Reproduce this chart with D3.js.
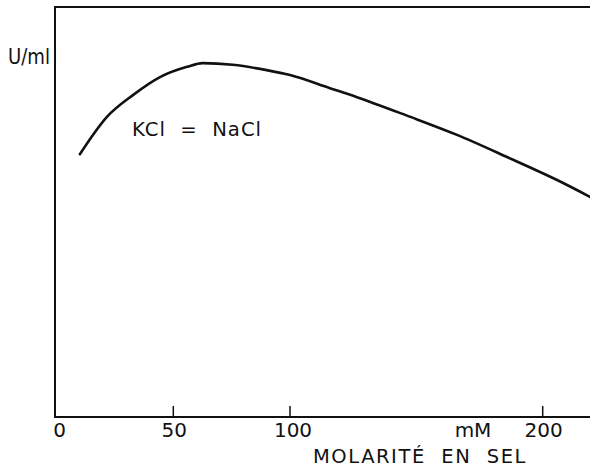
<!DOCTYPE html>
<html>
<head>
<meta charset="utf-8">
<script src="https://cdn.jsdelivr.net/npm/d3@7"></script>
<style>
  html, body { margin: 0; padding: 0; background: #fff; }
  svg text { font-family: "DejaVu Sans", sans-serif; fill: #111; white-space: pre; }
</style>
</head>
<body>
<svg id="chart" width="590" height="469"></svg>
<script>
// salt molarity (mM) and relative activity (U/ml, arbitrary units)
var molarity = [10, 21.6, 32.7, 44.3, 55.9, 62.6, 75.5, 90, 100, 115.8, 126.5, 146.3, 166.1, 185.9, 205.7, 218.7];
var activity = [64.1, 73.2, 78.5, 82.9, 85.4, 86.3, 85.9, 84.6, 83.4, 80.2, 78.0, 73.5, 68.8, 63.4, 57.8, 53.7];

var xTicks = [50, 100, 200];
var xTickLabels = ['0', '50', '100', '200'];
var xLabelValues = [0, 50, 100, 200];

var svg = d3.select('#chart');

var plotLeft = 55, plotTop = 7, plotBottom = 417, plotRight = 590;

// hand-drawn axis: spacing between ticks is not quite even
var x = d3.scaleLinear()
  .domain([0, 50, 100, 200])
  .range([plotLeft + 1.5, 173.3, 290, 542.7]);
var y = d3.scaleLinear()
  .domain([0, 100])
  .range([plotBottom, plotTop]);

var ink = '#111';

// frame: top, left, bottom (no right side)
svg.append('path')
  .attr('d', 'M' + plotRight + ',' + plotTop + 'H' + plotLeft + 'V' + plotBottom + 'H' + plotRight)
  .attr('fill', 'none')
  .attr('stroke', ink)
  .attr('stroke-width', 2);

// ticks pointing inward
svg.selectAll('.tick')
  .data(xTicks)
  .enter().append('line')
  .attr('class', 'tick')
  .attr('x1', function (d) { return x(d); })
  .attr('x2', function (d) { return x(d); })
  .attr('y1', plotBottom)
  .attr('y2', plotBottom - 11)
  .attr('stroke', ink)
  .attr('stroke-width', 1.5);

svg.selectAll('.tick-label')
  .data(xLabelValues)
  .enter().append('text')
  .attr('class', 'tick-label')
  .attr('x', function (d) { return x(d) + (d === 0 ? 3 : (d === 100 ? 3 : 1)); })
  .attr('y', 437)
  .attr('text-anchor', 'middle')
  .attr('font-size', 20)
  .text(function (d, i) { return xTickLabels[i]; });

svg.append('text')
  .attr('x', 473)
  .attr('y', 437)
  .attr('text-anchor', 'middle')
  .attr('font-size', 20)
  .text('mM');

svg.append('text')
  .attr('x', 313)
  .attr('y', 463)
  .attr('font-size', 20)
  .attr('letter-spacing', 1.6)
  .attr('textLength', 214)
  .attr('lengthAdjust', 'spacingAndGlyphs')
  .text('MOLARITÉ  EN  SEL');

svg.append('text')
  .attr('x', 8)
  .attr('y', 64)
  .attr('font-size', 21)
  .attr('textLength', 42)
  .attr('lengthAdjust', 'spacingAndGlyphs')
  .text('U/ml');

svg.append('text')
  .attr('x', 132)
  .attr('y', 136)
  .attr('font-size', 20)
  .attr('letter-spacing', 1)
  .attr('textLength', 130)
  .attr('lengthAdjust', 'spacingAndGlyphs')
  .text('KCl  =  NaCl');

// curve
var line = d3.line()
  .x(function (d, i) { return x(molarity[i]); })
  .y(function (d) { return y(d); })
  .curve(d3.curveMonotoneX);

svg.append('path')
  .attr('d', line(activity))
  .attr('fill', 'none')
  .attr('stroke', ink)
  .attr('stroke-width', 2.6)
  .attr('stroke-linecap', 'round');
</script>
</body>
</html>
